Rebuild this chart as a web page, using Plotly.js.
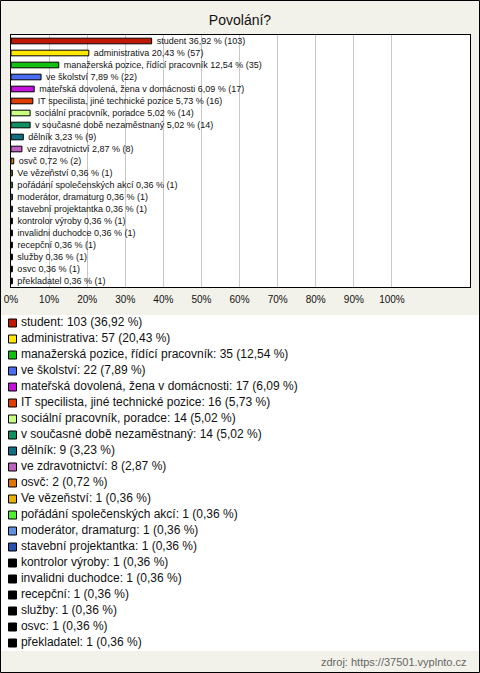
<!DOCTYPE html>
<html>
<head>
<meta charset="utf-8">
<script src="https://cdn.plot.ly/plotly-3.0.1.min.js"></script>
<style>html,body{margin:0;padding:0;background:#f3f2ea;}#chart{width:480px;height:673px;}</style>
</head>
<body>
<div id="chart"></div>
<script>
var categories = ["student","administrativa","manažerská pozice, řídící pracovník","ve školství","mateřská dovolená, žena v domácnosti","IT specilista, jiné technické pozice","sociální pracovník, poradce","v současné době nezaměstnaný","dělník","ve zdravotnictví","osvč","Ve vězeňství","pořádání společenských akcí","moderátor, dramaturg","stavební projektantka","kontrolor výroby","invalidni duchodce","recepční","služby","osvc","překladatel"];
var counts = [103,57,35,22,17,16,14,14,9,8,2,1,1,1,1,1,1,1,1,1,1];
var percents = [36.92,20.43,12.54,7.89,6.09,5.73,5.02,5.02,3.23,2.87,0.72,0.36,0.36,0.36,0.36,0.36,0.36,0.36,0.36,0.36,0.36];
var colors = ["#c01800","#ffe800","#12c012","#4a6cf0","#c412dc","#e03c00","#c8ff80","#109060","#107080","#c060c0","#e07400","#e8b000","#50f030","#6090e0","#2850b0","#000000","#000000","#000000","#000000","#000000","#000000"];
var tickVals = [0,10,20,30,40,50,60,70,80,90,100];
var tickText = ["0%","10%","20%","30%","40%","50%","60%","70%","80%","90%","100%"];
var titleText = "Povolání?";
var sourceText = "zdroj: https://37501.vyplnto.cz";

function fmt(p){ return p.toFixed(2).replace('.', ','); }
var barText = categories.map(function(c,i){ return '\u00a0\u00a0' + c + ' ' + fmt(percents[i]) + ' % (' + counts[i] + ')'; });
var legendText = categories.map(function(c,i){ return '\u2009' + c + ': ' + counts[i] + ' (' + fmt(percents[i]) + ' %)'; });

var W = 480, H = 673;
function fy(px){ return 1 - px / H; }

var bars = {
  type: 'bar', orientation: 'h',
  x: percents, y: categories,
  marker: {color: colors, line: {color: '#000', width: 1}},
  width: 0.47,
  text: barText, textposition: 'outside', constraintext: 'none', cliponaxis: false,
  textfont: {family: 'Arial, Liberation Sans, sans-serif', size: 9, color: '#111'},
  hoverinfo: 'none', showlegend: false,
  xaxis: 'x', yaxis: 'y'
};

var legendPts = {
  type: 'scatter', mode: 'markers+text',
  x: categories.map(function(){ return 0; }), y: categories,
  marker: {symbol: 'square', size: 8, color: colors, line: {color: '#000', width: 1}},
  text: legendText, textposition: 'middle right', cliponaxis: false,
  textfont: {family: 'Arial, Liberation Sans, sans-serif', size: 12, color: '#111'},
  hoverinfo: 'none', showlegend: false,
  xaxis: 'x2', yaxis: 'y2'
};

var layout = {
  width: W, height: H,
  margin: {l: 0, r: 0, t: 0, b: 0},
  paper_bgcolor: '#f3f2ea', plot_bgcolor: '#ffffff',
  showlegend: false,
  title: {text: titleText, x: 0.5, xanchor: 'center', y: fy(20), yanchor: 'middle', yref: 'paper',
          font: {family: 'Arial, Liberation Sans, sans-serif', size: 14, color: '#111'}},
  xaxis: {domain: [11/W, 470/W], range: [0, 120.5], tickmode: 'array', tickvals: tickVals, ticktext: tickText,
          showgrid: true, gridcolor: '#c8c8c8', gridwidth: 1, zeroline: false,
          showline: true, linecolor: '#000', linewidth: 1, mirror: true, ticks: '', ticklabelstandoff: 3,
          tickfont: {family: 'Arial, Liberation Sans, sans-serif', size: 10, color: '#111'}, fixedrange: true},
  yaxis: {domain: [fy(287), fy(35)], type: 'category', categoryorder: 'array', categoryarray: categories,
          range: [20.5, -0.5], showticklabels: false, showgrid: false, zeroline: false,
          showline: true, linecolor: '#000', linewidth: 1, mirror: true, ticks: '', fixedrange: true},
  xaxis2: {domain: [0, 1], range: [-12.5, 467.5], visible: false, fixedrange: true, anchor: 'y2'},
  yaxis2: {domain: [fy(651), fy(315)], type: 'category', categoryorder: 'array', categoryarray: categories,
           range: [20.5, -0.5], visible: false, fixedrange: true, anchor: 'x2'},
  annotations: [{text: sourceText, xref: 'paper', yref: 'paper', x: 469/W, y: fy(662), xanchor: 'right', yanchor: 'middle',
                 showarrow: false, font: {family: 'Arial, Liberation Sans, sans-serif', size: 11, color: '#666'}}],
  shapes: [{type: 'rect', xref: 'paper', yref: 'paper', x0: 0.5/W, x1: 1 - 0.5/W, y0: 0.5/H, y1: 1 - 0.5/H,
            line: {color: '#000', width: 1}}]
};

Plotly.newPlot('chart', [bars, legendPts], layout, {staticPlot: true, displayModeBar: false});
</script>
</body>
</html>
